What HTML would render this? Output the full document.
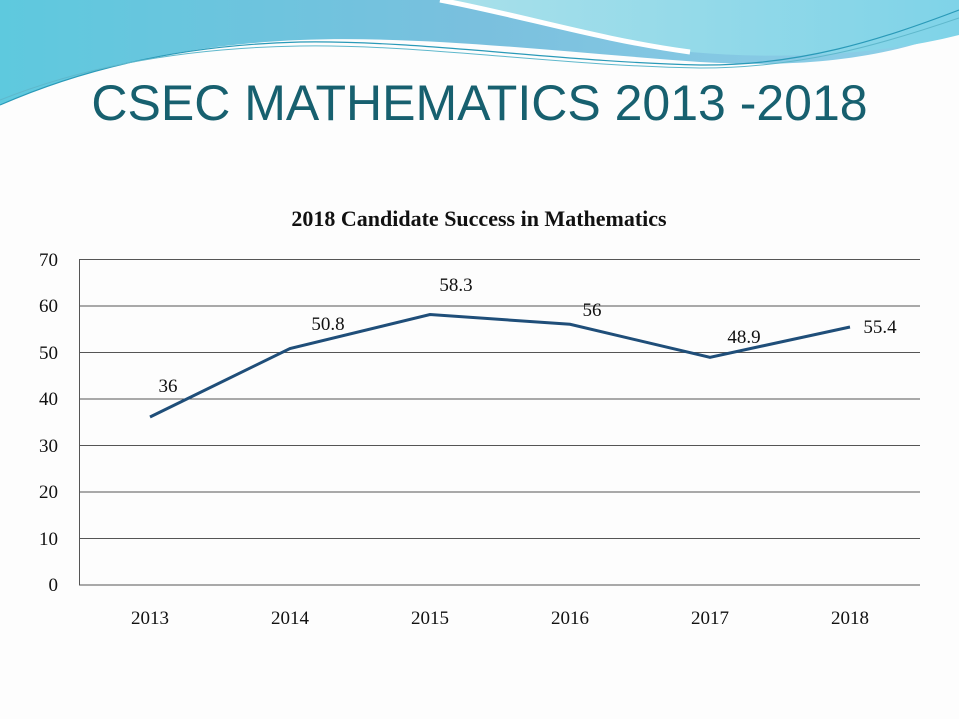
<!DOCTYPE html>
<html><head><style>
body{margin:0;width:959px;height:719px;background:#fdfdfd;overflow:hidden;position:relative;font-family:"Liberation Serif",serif}
.t{position:absolute;left:0;width:959px;text-align:center;top:74px;font-family:"Liberation Sans",sans-serif;font-size:50px;color:#17606f;letter-spacing:0px}
</style></head><body>
<svg width="959" height="719" style="position:absolute;left:0;top:0">
<defs>
<linearGradient id="g1" x1="0" y1="0" x2="1" y2="0"><stop offset="0" stop-color="#5ec9de"/><stop offset="0.5" stop-color="#7ac0de"/><stop offset="1" stop-color="#8fd0e8"/></linearGradient>
<linearGradient id="g2" x1="0" y1="0" x2="1" y2="0"><stop offset="0" stop-color="#a8e0ea"/><stop offset="1" stop-color="#7fd3e8"/></linearGradient>
</defs>
<path d="M0,0 H959 V30 C880,60 800,68 700,62 C560,52 420,35 300,40 C180,45 80,70 0,105 Z" fill="url(#g1)"/>
<path d="M450,0 H959 V35 C880,55 780,60 690,52 C600,40 520,15 450,0 Z" fill="url(#g2)"/>
<path d="M440,0 C520,15 600,40 690,52" stroke="#fff" stroke-width="5" fill="none"/>
<path d="M0,105 C80,70 180,45 300,42 C420,40 560,62 700,65 C800,66 880,40 959,10" stroke="#2a9ab8" stroke-width="1.2" fill="none"/>
<path d="M0,100 C80,68 180,48 300,46 C420,44 560,66 700,68 C800,68 880,45 959,18" stroke="#5fb8cc" stroke-width="1" fill="none"/>
<g stroke="#555" stroke-width="1">
<line x1="79" y1="259.5" x2="920" y2="259.5"/><line x1="79" y1="306" x2="920" y2="306"/><line x1="79" y1="352.5" x2="920" y2="352.5"/><line x1="79" y1="399" x2="920" y2="399"/><line x1="79" y1="445.5" x2="920" y2="445.5"/><line x1="79" y1="492" x2="920" y2="492"/><line x1="79" y1="538.5" x2="920" y2="538.5"/><line x1="79" y1="585" x2="920" y2="585"/>
<line x1="79.5" y1="259" x2="79.5" y2="585"/>
</g>
<polyline points="150,417 290,348.5 430,314.5 570,324.3 710,357.3 850,327" fill="none" stroke="#1f4e79" stroke-width="3"/>
<g font-family="Liberation Serif,serif" font-size="19" fill="#111">
<text x="479" y="226" text-anchor="middle" font-weight="bold" font-size="22">2018 Candidate Success in Mathematics</text>
<g text-anchor="end"><text x="58" y="266">70</text><text x="58" y="312">60</text><text x="58" y="359">50</text><text x="58" y="405">40</text><text x="58" y="452">30</text><text x="58" y="498">20</text><text x="58" y="545">10</text><text x="58" y="591">0</text></g>
<g text-anchor="middle"><text x="150" y="624">2013</text><text x="290" y="624">2014</text><text x="430" y="624">2015</text><text x="570" y="624">2016</text><text x="710" y="624">2017</text><text x="850" y="624">2018</text>
<text x="168" y="392">36</text><text x="328" y="330">50.8</text><text x="456" y="291">58.3</text><text x="592" y="316">56</text><text x="744" y="343">48.9</text><text x="880" y="333">55.4</text></g>
</g>
</svg>
<div class="t">CSEC MATHEMATICS 2013 -2018</div>
</body></html>
